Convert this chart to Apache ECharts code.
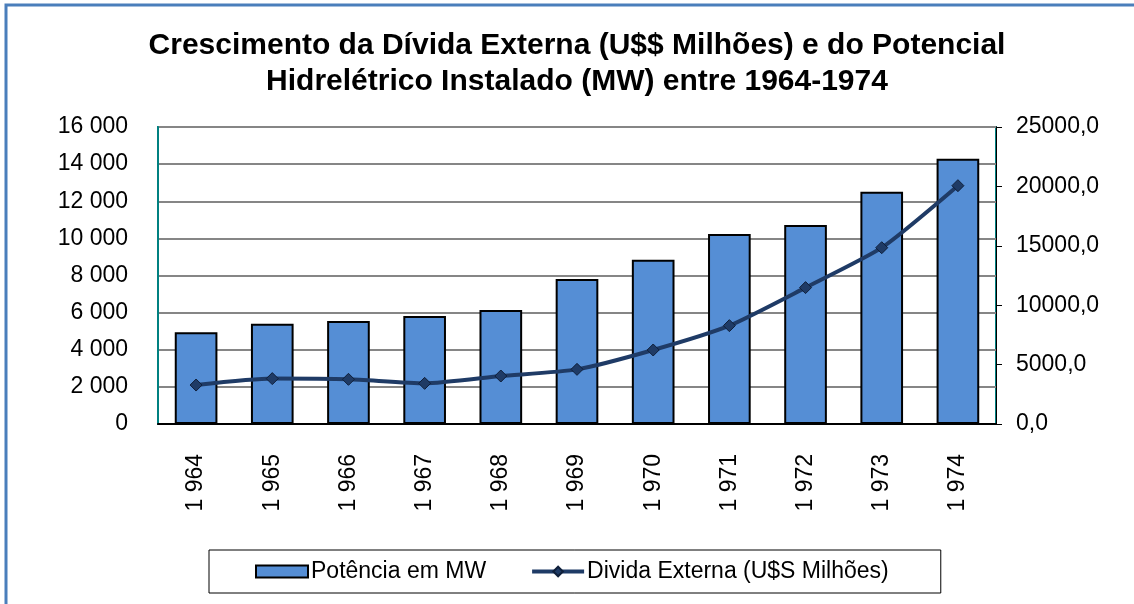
<!DOCTYPE html>
<html>
<head>
<meta charset="utf-8">
<script src="https://cdn.jsdelivr.net/npm/echarts@6/dist/echarts.min.js"></script>
<style>
    html, body { margin: 0; padding: 0; background: #fff; }
    #chart { width: 1134px; height: 604px; }
</style>
</head>
<body>
<div id="chart"></div>
<script>
var years = ['1 964', '1 965', '1 966', '1 967', '1 968', '1 969', '1 970', '1 971', '1 972', '1 973', '1 974'];
var potencia = [4940, 5400, 5550, 5820, 6140, 7810, 8850, 10240, 10720, 12510, 14290];
var divida = [3280, 3820, 3760, 3420, 4040, 4600, 6230, 8280, 11480, 14840, 20060];
var leftTicks = ['0', '2 000', '4 000', '6 000', '8 000', '10 000', '12 000', '14 000', '16 000'];
var rightTicks = ['0,0', '5000,0', '10000,0', '15000,0', '20000,0', '25000,0'];

var chartBox = document.getElementById('chart');
var myChart = echarts.init(chartBox);
var font = 'Liberation Sans, Arial, sans-serif';

var option = {
    animation: false,
    textStyle: { fontFamily: font },
    title: {
        text: 'Crescimento da Dívida Externa (U$$ Milhões) e do Potencial\nHidrelétrico Instalado (MW) entre 1964-1974',
        left: 572,
        textAlign: 'center',
        top: 23,
        textStyle: {
            fontSize: 30,
            fontWeight: 'bold',
            color: '#000',
            lineHeight: 36,
            fontFamily: font
        }
    },
    graphic: [{
        type: 'polyline',
        shape: { points: [[6, 604], [6, 5], [1134, 5]] },
        style: { stroke: '#4a7ebb', lineWidth: 3, fill: null }
    }],
    legend: {
        left: 209,
        top: 550,
        itemGap: 44,
        padding: [10, 52, 10, 46],
        borderColor: '#000',
        borderWidth: 1,
        backgroundColor: '#fff',
        itemWidth: 52,
        itemHeight: 12,
        textStyle: { fontSize: 23, color: '#000', fontFamily: font, padding: [0, 0, 0, -2] },
        data: [
            { name: 'Potência em MW', icon: 'rect' },
            {
                name: 'Divida Externa (U$S Milhões)',
                lineStyle: { width: 4, color: '#1f3b66' }
            }
        ]
    },
    grid: {
        left: 158,
        right: 138,
        top: 127,
        bottom: 180,
        show: true,
        borderColor: '#008080',
        borderWidth: 2
    },
    xAxis: {
        type: 'category',
        data: years,
        axisLine: { lineStyle: { color: '#000', width: 2 } },
        axisTick: { show: false },
        axisLabel: {
            rotate: 90,
            margin: 30,
            fontSize: 23,
            color: '#000',
            fontFamily: font
        }
    },
    yAxis: [
        {
            type: 'value',
            min: 0,
            max: 16000,
            interval: 2000,
            axisLine: { show: true, lineStyle: { color: '#008080', width: 2 } },
            axisTick: { show: false },
            splitLine: { lineStyle: { color: '#868686', width: 2 } },
            axisLabel: {
                margin: 30,
                fontSize: 23,
                color: '#000',
                fontFamily: font,
                formatter: function (v) { return leftTicks[Math.round(v / 2000)]; }
            }
        },
        {
            type: 'value',
            min: 0,
            max: 25000,
            interval: 5000,
            position: 'right',
            axisLine: { show: true, lineStyle: { color: '#000', width: 1 } },
            axisTick: { show: true, length: 6, inside: false, lineStyle: { color: '#000' } },
            splitLine: { show: false },
            axisLabel: {
                margin: 20,
                fontSize: 23,
                color: '#000',
                fontFamily: font,
                formatter: function (v) { return rightTicks[Math.round(v / 5000)]; }
            }
        }
    ],
    series: [
        {
            name: 'Potência em MW',
            type: 'bar',
            yAxisIndex: 0,
            barWidth: '56%',
            itemStyle: {
                color: '#558ed5',
                borderColor: '#000',
                borderWidth: 2
            },
            data: potencia
        },
        {
            name: 'Divida Externa (U$S Milhões)',
            type: 'line',
            yAxisIndex: 1,
            smooth: 0.2,
            symbol: 'diamond',
            symbolSize: 12,
            lineStyle: { color: '#1f3b66', width: 4 },
            itemStyle: { color: '#1f3b66', borderColor: '#0f1f3a', borderWidth: 1 },
            data: divida
        }
    ]
};
myChart.setOption(option);
</script>
</body>
</html>
